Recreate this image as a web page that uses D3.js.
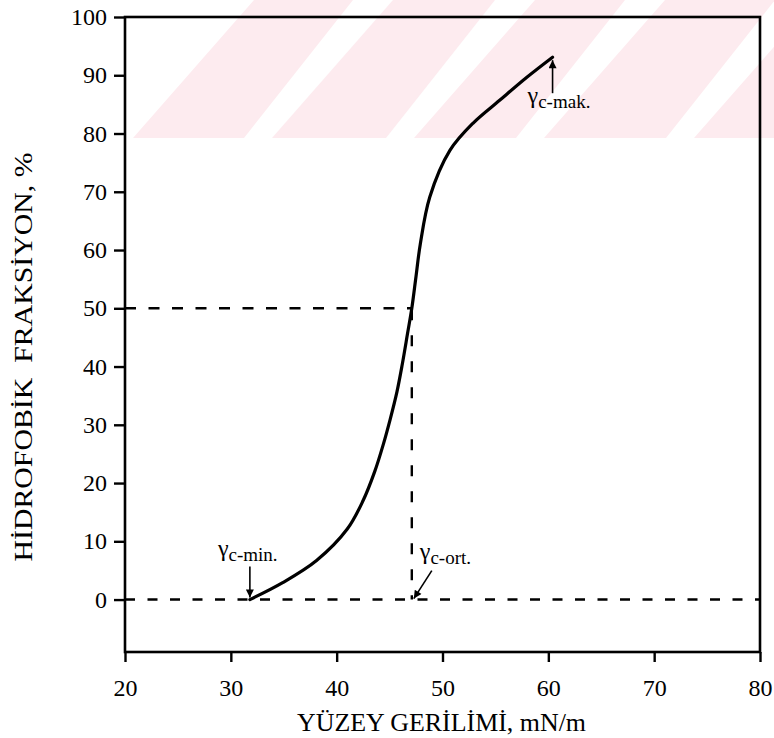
<!DOCTYPE html>
<html>
<head>
<meta charset="utf-8">
<script src="https://cdn.jsdelivr.net/npm/d3@7"></script>
<style>
  html, body { margin: 0; padding: 0; background: #fff; }
  svg text { font-family: "Liberation Serif", "DejaVu Serif", "Noto Serif", "Times New Roman", Times, serif; }
</style>
</head>
<body>
<div id="wrapper"></div>
<script>
// curve
const tension = [31.8, 34.9, 38.1, 41.0, 42.5, 43.6, 44.4, 45.05, 45.7, 46.2, 46.7, 47.1, 47.5, 47.9, 48.8, 50.7, 52.9, 55.4, 58.0, 60.4]
const fraction = [0, 2.9, 6.7, 12.1, 17.0, 22.0, 26.6, 30.9, 35.7, 40.4, 45.7, 50.0, 55.5, 61.0, 69.1, 77.1, 81.8, 85.7, 89.7, 93.1]

const xTicks = [20, 30, 40, 50, 60, 70, 80]
const yTicks = [0, 10, 20, 30, 40, 50, 60, 70, 80, 90, 100]

const gammaMin = 31.8
const gammaAvg = 47.1
const gammaMax = 60.4
const gammaMaxValue = 93.1
const halfLevel = 50

const xTitle = "YÜZEY GERİLİMİ, mN/m"
const yTitle = "HİDROFOBİK  FRAKSİYON, %"

const serif = "'Liberation Serif', 'DejaVu Serif', 'Noto Serif', 'Times New Roman', Times, serif"

const dimensions = {
  width: 774,
  height: 738,
  margin: { top: 17, right: 14, bottom: 86, left: 125 },
}
dimensions.boundedWidth = dimensions.width - dimensions.margin.left - dimensions.margin.right
dimensions.boundedHeight = dimensions.height - dimensions.margin.top - dimensions.margin.bottom

const svg = d3.select("#wrapper")
  .append("svg")
  .attr("width", dimensions.width)
  .attr("height", dimensions.height)

// faint pink watermark stripes (scan background)
const clip = svg.append("clipPath").attr("id", "wmclip")
clip.append("rect").attr("x", 0).attr("y", 0).attr("width", 774).attr("height", 138)
const wm = svg.append("g").attr("clip-path", "url(#wmclip)")
const stripeEdges = [[133, 244], [272, 386], [414, 516], [544, 666], [694, 860]]
stripeEdges.forEach(([a, b]) => {
  const shift = 115
  wm.append("polygon")
    .attr("points", `${a},138 ${b},138 ${b + shift - 6},0 ${a + shift + 6},0`)
    .attr("fill", "#fdebef")
})

const xScale = d3.scaleLinear()
  .domain([20, 80])
  .range([0, dimensions.boundedWidth])
const yScale = d3.scaleLinear()
  .domain([-9, 100])
  .range([dimensions.boundedHeight, 0])

const bounds = svg.append("g")
  .attr("transform", `translate(${dimensions.margin.left},${dimensions.margin.top})`)

// dashed reference lines
bounds.append("line")
  .attr("x1", xScale(20)).attr("x2", xScale(80))
  .attr("y1", yScale(0)).attr("y2", yScale(0))
  .attr("stroke", "#000").attr("stroke-width", 2.6)
  .attr("stroke-dasharray", "10,12.5")
bounds.append("line")
  .attr("x1", xScale(20)).attr("x2", xScale(gammaAvg))
  .attr("y1", yScale(halfLevel)).attr("y2", yScale(halfLevel))
  .attr("stroke", "#000").attr("stroke-width", 2.6)
  .attr("stroke-dasharray", "11,12.5")
bounds.append("line")
  .attr("x1", xScale(gammaAvg)).attr("x2", xScale(gammaAvg))
  .attr("y1", yScale(halfLevel)).attr("y2", yScale(0))
  .attr("stroke", "#000").attr("stroke-width", 2.4)
  .attr("stroke-dasharray", "11,15")
  .attr("stroke-dashoffset", 25)

// curve
const points = tension.map((t, i) => [t, fraction[i]])
const lineGen = d3.line()
  .x(d => xScale(d[0]))
  .y(d => yScale(d[1]))
  .curve(d3.curveCatmullRom.alpha(0.5))
bounds.append("path")
  .attr("d", lineGen(points))
  .attr("fill", "none")
  .attr("stroke", "#000")
  .attr("stroke-width", 3.2)
  .attr("stroke-linecap", "round")

// frame + axes
bounds.append("rect")
  .attr("x", 0).attr("y", 0)
  .attr("width", dimensions.boundedWidth)
  .attr("height", dimensions.boundedHeight)
  .attr("fill", "none")
  .attr("stroke", "#000")
  .attr("stroke-width", 2.6)

const yAxis = bounds.append("g")
  .call(d3.axisLeft(yScale).tickValues(yTicks).tickSize(11).tickPadding(7))
yAxis.select(".domain").remove()
const xAxis = bounds.append("g")
  .attr("transform", `translate(0,${dimensions.boundedHeight})`)
  .call(d3.axisBottom(xScale).tickValues(xTicks).tickSize(10).tickPadding(17))
xAxis.select(".domain").remove()
;[yAxis, xAxis].forEach(ax => {
  ax.attr("font-family", serif).attr("font-size", 24)
  ax.selectAll(".tick line").attr("stroke", "#000").attr("stroke-width", 2.4)
  ax.selectAll(".tick text").attr("fill", "#000")
})

// axis titles
svg.append("text")
  .attr("x", 441.5).attr("y", 731)
  .attr("text-anchor", "middle")
  .attr("font-family", serif)
  .attr("font-size", 25)
  .attr("textLength", 289)
  .attr("lengthAdjust", "spacingAndGlyphs")
  .text(xTitle)
svg.append("text")
  .attr("transform", "translate(32,357) rotate(-90)")
  .attr("text-anchor", "middle")
  .attr("font-family", serif)
  .attr("font-size", 26)
  .attr("textLength", 409)
  .attr("lengthAdjust", "spacingAndGlyphs")
  .style("white-space", "pre")
  .text(yTitle)

// annotations
svg.append("defs").append("marker")
  .attr("id", "head")
  .attr("viewBox", "0 0 10 10")
  .attr("refX", 10).attr("refY", 5)
  .attr("markerWidth", 10).attr("markerHeight", 8)
  .attr("markerUnits", "userSpaceOnUse")
  .attr("orient", "auto")
  .append("path")
  .attr("d", "M0,0 L10,5 L0,10 Z")
  .attr("fill", "#000")

function arrow(x1, y1, x2, y2) {
  bounds.append("line")
    .attr("x1", x1).attr("y1", y1).attr("x2", x2).attr("y2", y2)
    .attr("stroke", "#000").attr("stroke-width", 1.6)
    .attr("marker-end", "url(#head)")
}
function gammaLabel(x, y, sub) {
  const t = bounds.append("text").attr("x", x).attr("y", y).attr("font-family", serif)
  t.append("tspan").attr("font-size", 24).text("γ")
  t.append("tspan").attr("dy", 5).attr("font-size", 19).text(sub)
}

const px0 = xScale(gammaMin), py0 = yScale(0)
arrow(px0, py0 - 33, px0, py0 - 2)
gammaLabel(px0 - 32, py0 - 44, "c-min.")

const pxa = xScale(gammaAvg)
arrow(pxa + 20, py0 - 29, pxa + 2, py0 - 1)
gammaLabel(pxa + 8, py0 - 41, "c-ort.")

const pxm = xScale(gammaMax), pym = yScale(gammaMaxValue)
arrow(pxm, pym + 36, pxm, pym + 3)
gammaLabel(pxm - 25, pym + 46, "c-mak.")
</script>
</body>
</html>
